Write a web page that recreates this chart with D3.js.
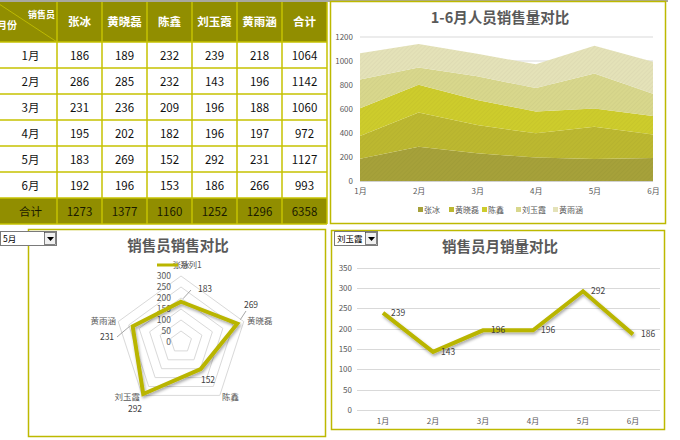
<!DOCTYPE html>
<html><head><meta charset="utf-8">
<script src="https://cdn.jsdelivr.net/npm/d3@7"></script>
<style>body{margin:0;background:#fff}svg{display:block}text{font-family:"Noto Sans CJK SC","Liberation Sans",sans-serif}</style>
</head><body><svg id="c" width="680" height="440"></svg>
<script>
const months=['1月','2月','3月','4月','5月','6月'];
const people=['张冰','黄晓磊','陈鑫','刘玉霞','黄雨涵'];
const zhangBing=[186,286,231,195,183,192];
const huangXiaolei=[189,285,236,202,269,196];
const chenXin=[232,232,209,182,152,153];
const liuYuxia=[239,143,196,196,292,186];
const huangYuhan=[218,196,188,197,231,266];
const areaTicks=[0,200,400,600,800,1000,1200];
const lineTicks=[0,50,100,150,200,250,300,350];
const radarTicks=[0,50,100,150,200,250,300];
const selectedMonth='5月';
const selectedPerson='刘玉霞';
const series=[zhangBing,huangXiaolei,chenXin,liuYuxia,huangYuhan];
const layerColors=['#a6a13a','#bcb830','#cdcc2c','#d8d78c','#e4e2b8'];

const svg=d3.select('#c');
const OLIVE='#918e00', CELL='#c6c200', PANEL='#bdb900', GRID='#d9d9d9', TXT='#595959';
const NUM='"Liberation Sans","Noto Sans CJK SC",sans-serif';

// defs
const defs=svg.append('defs');
const f=defs.append('filter').attr('id','sh').attr('x','-10%').attr('y','-10%').attr('width','130%').attr('height','140%');
f.append('feDropShadow').attr('dx',1).attr('dy',2).attr('stdDeviation',1.4).attr('flood-color','#000').attr('flood-opacity',0.35);
layerColors.forEach((c,i)=>{
  const p=defs.append('pattern').attr('id','p'+i).attr('width',3).attr('height',3)
    .attr('patternUnits','userSpaceOnUse').attr('patternTransform','rotate(45)');
  p.append('rect').attr('width',3).attr('height',3).attr('fill',c);
  p.append('line').attr('x1',0).attr('y1',0).attr('x2',0).attr('y2',3)
    .attr('stroke',d3.color(c).darker(0.35)).attr('stroke-width',1).attr('opacity',0.5);
});

// top gray line
svg.append('rect').attr('x',0).attr('y',0).attr('width',668).attr('height',2).attr('fill','#a8a8a0');

// ---------- TABLE ----------
const colX=[-4,57,102,147,192,237,282,327];
const rowY=[2,42,68,94,120,146,172,198,224];
const rows=months.map((m,r)=>[m,...series.map(s=>s[r]),d3.sum(series,s=>s[r])]);
const totals=['合计',...series.map(s=>d3.sum(s)),d3.sum(series,s=>d3.sum(s))];
const tg=svg.append('g');
tg.append('rect').attr('x',-12).attr('y',rowY[0]).attr('width',339).attr('height',rowY[1]-rowY[0]).attr('fill',OLIVE);
tg.append('rect').attr('x',-12).attr('y',rowY[7]).attr('width',339).attr('height',rowY[8]-rowY[7]).attr('fill',OLIVE);
colX.slice(1).forEach(x=>tg.append('line').attr('x1',x).attr('x2',x).attr('y1',rowY[0]).attr('y2',rowY[8]).attr('stroke',CELL).attr('stroke-width',1.5));
rowY.slice(1).forEach(y=>tg.append('line').attr('x1',-12).attr('x2',327).attr('y1',y).attr('y2',y).attr('stroke',CELL).attr('stroke-width',1.5));
tg.append('line').attr('x1',-4).attr('y1',2).attr('x2',57).attr('y2',42).attr('stroke','#c8c400').attr('stroke-width',0.8);
tg.append('text').attr('x',55).attr('y',18).attr('text-anchor','end').attr('font-size',9).attr('font-weight','bold').attr('fill','#fff').text('销售员');
tg.append('text').attr('x',-3).attr('y',29).attr('font-size',10).attr('font-weight','bold').attr('fill','#fff').text('月份');
const cx=i=>(colX[i]+colX[i+1])/2;
[...people,'合计'].forEach((p,i)=>tg.append('text').attr('x',cx(i+1)).attr('y',26).attr('text-anchor','middle')
  .attr('font-size',11.5).attr('font-weight','bold').attr('fill','#fff').text(p));
rows.forEach((row,r)=>row.forEach((v,i)=>tg.append('text').attr('x',i===0?cx(0)+4:cx(i)).attr('y',rowY[r+1]+17.5)
  .attr('text-anchor','middle').attr('font-size',11.5).attr('fill','#111').text(v)));
totals.forEach((v,i)=>tg.append('text').attr('x',i===0?cx(0)+4:cx(i)).attr('y',rowY[7]+17.5)
  .attr('text-anchor','middle').attr('font-size',11.5).attr('fill','#1a1a00').text(v));

// ---------- AREA CHART ----------
const ag=svg.append('g');
ag.append('rect').attr('x',330.5).attr('y',1.5).attr('width',335).attr('height',222).attr('fill','#fff').attr('stroke',PANEL).attr('stroke-width',1.5);
ag.append('text').attr('x',500).attr('y',23).attr('text-anchor','middle').attr('font-size',14.5).attr('font-weight','bold').attr('fill',TXT).text('1-6月人员销售量对比');
const ax=d3.scalePoint().domain(months).range([360,653]);
const ay=d3.scaleLinear().domain([0,1200]).range([181,37]);
ag.append('g').selectAll('line').data(areaTicks.slice(1)).join('line')
  .attr('x1',360).attr('x2',653).attr('y1',d=>ay(d)).attr('y2',d=>ay(d)).attr('stroke',GRID);
const tableData=months.map((m,i)=>{const o={m};people.forEach((p,j)=>o[p]=series[j][i]);return o;});
const stack=d3.stack().keys(people)(tableData);
const area=d3.area().x(d=>ax(d.data.m)).y0(d=>ay(d[0])).y1(d=>ay(d[1]));
ag.append('g').selectAll('path').data(stack).join('path').attr('d',area).attr('fill',(d,i)=>'url(#p'+i+')');
ag.append('line').attr('x1',360).attr('x2',653).attr('y1',181.5).attr('y2',181.5).attr('stroke','#d0d0d0');
const yA=ag.append('g').attr('transform','translate(355,0)').call(d3.axisLeft(ay).tickValues(areaTicks).tickFormat(d3.format('d')).tickSize(0).tickPadding(2));
yA.select('.domain').remove();
yA.selectAll('text').attr('font-size',8).attr('fill',TXT).attr('font-family',NUM);
const xA=ag.append('g').attr('transform','translate(0,181)').call(d3.axisBottom(ax).tickSize(0).tickPadding(7));
xA.select('.domain').remove();
xA.selectAll('text').attr('font-size',8).attr('fill',TXT);
const legX=[418,449,482,516,553];
people.forEach((p,i)=>{
  ag.append('rect').attr('x',legX[i]).attr('y',207).attr('width',5).attr('height',5).attr('fill',layerColors[i]);
  ag.append('text').attr('x',legX[i]+6).attr('y',213).attr('font-size',8).attr('fill',TXT).text(p);
});

// ---------- RADAR CHART ----------
const rg=svg.append('g');
rg.append('rect').attr('x',28.5).attr('y',229.5).attr('width',297).attr('height',207).attr('fill','#fff').attr('stroke',PANEL).attr('stroke-width',1.5);
rg.append('text').attr('x',178).attr('y',251).attr('text-anchor','middle').attr('font-size',14.5).attr('font-weight','bold').attr('fill',TXT).text('销售员销售对比');
const mi=months.indexOf(selectedMonth);
const rVals=series.map(s=>s[mi]);
const RC=[181,342];
const rr=d3.scaleLinear().domain([0,300]).range([0,66]);
const ang=i=>i*2*Math.PI/5;
const pt=(i,v)=>[RC[0]+Math.sin(ang(i))*rr(v),RC[1]-Math.cos(ang(i))*rr(v)];
radarTicks.slice(1).forEach(t=>{
  rg.append('path').attr('d',d3.line()(people.map((p,i)=>pt(i,t)))+'Z').attr('fill','none').attr('stroke',GRID);
});
radarTicks.forEach(t=>rg.append('text').attr('x',RC[0]-10).attr('y',RC[1]-rr(t)+3).attr('text-anchor','end')
  .attr('font-size',8.5).attr('fill',TXT).attr('font-family',NUM).text(t));
rg.append('path').attr('d',d3.line()(rVals.map((v,i)=>pt(i,v)))+'Z').attr('fill','none')
  .attr('stroke','#b9b500').attr('stroke-width',4).attr('stroke-linejoin','miter').attr('filter','url(#sh)');
// category labels
const catPos=[[181,268,'middle'],[247,324,'start'],[222,400,'start'],[140,400,'end'],[116,324,'end']];
people.forEach((p,i)=>rg.append('text').attr('x',catPos[i][0]).attr('y',catPos[i][1]).attr('text-anchor',catPos[i][2])
  .attr('font-size',8.5).attr('fill',TXT).text(p));
// legend
rg.append('line').attr('x1',157).attr('x2',178).attr('y1',265).attr('y2',265).attr('stroke','#b9b500').attr('stroke-width',3);
rg.append('text').attr('x',180).attr('y',268).attr('font-size',8.5).attr('fill',TXT).text('系列1');
// data labels
const dl=[[205,292,[191,290]],[251,308,[246,311]],[208,383,null],[135,412,null],[107,340,[117,337]]];
rVals.forEach((v,i)=>{
  const [x,y,lead]=dl[i];
  if(lead){const p=pt(i,v);rg.append('line').attr('x1',lead[0]).attr('y1',lead[1]).attr('x2',p[0]+(i===4?-3:(i===0?2:3))).attr('y2',p[1]+(i===0?-3:(i===1?-4:0))).attr('stroke','#7f7f7f').attr('stroke-width',0.7);}
  rg.append('text').attr('x',x).attr('y',y).attr('text-anchor','middle').attr('font-size',8.5).attr('fill','#404040').attr('font-family',NUM).text(v);
});
// dropdown
function dropdown(g,x,y,w,label){
  g.append('rect').attr('x',x+0.5).attr('y',y+0.5).attr('width',w).attr('height',14).attr('fill','#fff').attr('stroke','#7a7a7a');
  g.append('rect').attr('x',x+w-11.5).attr('y',y+1.5).attr('width',11).attr('height',12).attr('fill','#f0f0f0').attr('stroke','#333').attr('stroke-width',0.6);
  g.append('path').attr('d',`M${x+w-9},${y+6}h7l-3.5,4z`).attr('fill','#000');
  g.append('text').attr('x',x+3).attr('y',y+11).attr('font-size',8.5).attr('fill','#000').text(label);
}
dropdown(rg,0,231,56,selectedMonth);

// ---------- LINE CHART ----------
const lg=svg.append('g');
lg.append('rect').attr('x',331.5).attr('y',230.5).attr('width',333).attr('height',199).attr('fill','#fff').attr('stroke',PANEL).attr('stroke-width',1.5);
lg.append('text').attr('x',500).attr('y',252).attr('text-anchor','middle').attr('font-size',14.5).attr('font-weight','bold').attr('fill',TXT).text('销售员月销量对比');
const lx=d3.scaleBand().domain(months).range([358,658]);
const ly=d3.scaleLinear().domain([0,350]).range([410,267.7]);
lg.append('g').selectAll('line').data(lineTicks).join('line').attr('x1',357).attr('x2',660)
  .attr('y1',d=>Math.round(ly(d))+0.5).attr('y2',d=>Math.round(ly(d))+0.5).attr('stroke',GRID);
const yL=lg.append('g').attr('transform','translate(352,0)').call(d3.axisLeft(ly).tickValues(lineTicks).tickSize(0).tickPadding(0));
yL.select('.domain').remove();
yL.selectAll('text').attr('font-size',8).attr('fill',TXT).attr('font-family',NUM);
const xL=lg.append('g').attr('transform','translate(0,410)').call(d3.axisBottom(lx).tickSize(0).tickPadding(8));
xL.select('.domain').remove();
xL.selectAll('text').attr('font-size',8).attr('fill',TXT);
const pv=series[people.indexOf(selectedPerson)];
lg.append('path').datum(pv).attr('d',d3.line().x((d,i)=>lx(months[i])+lx.bandwidth()/2).y(d=>ly(d)))
  .attr('fill','none').attr('stroke','#b9b500').attr('stroke-width',4).attr('stroke-linejoin','miter').attr('filter','url(#sh)');
lg.append('g').selectAll('text').data(pv).join('text').attr('x',(d,i)=>lx(months[i])+lx.bandwidth()/2+8).attr('y',d=>ly(d)+3)
  .attr('font-size',8.5).attr('fill','#404040').attr('font-family',NUM).text(d=>d);
dropdown(lg,334,231,43,selectedPerson);
</script></body></html>
